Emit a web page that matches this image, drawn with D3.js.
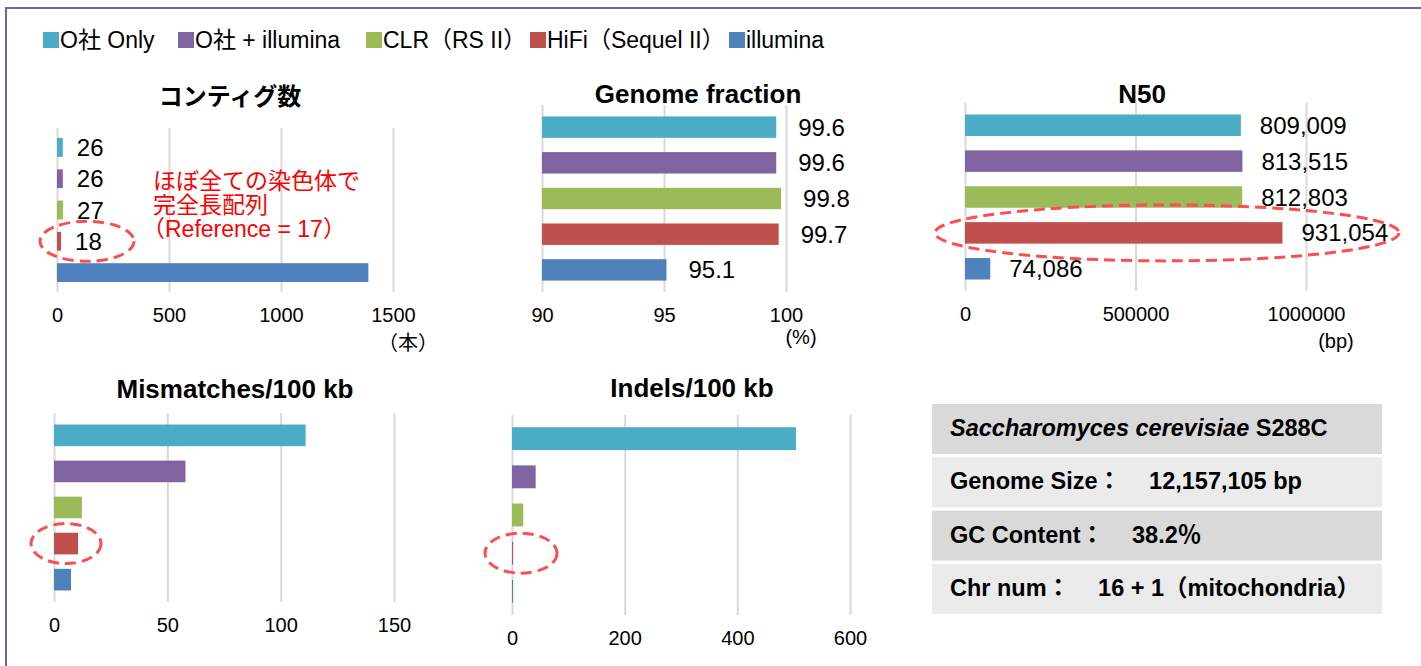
<!DOCTYPE html>
<html>
<head>
<meta charset="utf-8">
<script src="https://cdn.jsdelivr.net/npm/d3@7"></script>
<style>
  body { margin: 0; background: #fff; }
  svg { display: block; font-family: "Liberation Sans", Arial, "Noto Sans CJK JP", sans-serif; }
</style>
</head>
<body>
<svg id="chart" width="1421" height="666"></svg>
<script>
// ---------------- data ----------------
const seriesNames = ["O社 Only", "O社 + illumina", "CLR（RS II）", "HiFi（Sequel II）", "illumina"];
const seriesColors = ["#4BACC6", "#8064A2", "#9BBB59", "#C0504D", "#4F81BD"];

const contigCounts   = [26, 26, 27, 18, 1390];
const genomeFraction = [99.6, 99.6, 99.8, 99.7, 95.1];
const n50Values      = [809009, 813515, 812803, 931054, 74086];
const mismatches     = [111, 58, 12.3, 10.6, 7.5];
const indels         = [504, 42, 20, 1.5, 1];

const contigTicks   = [0, 500, 1000, 1500];
const fractionTicks = [90, 95, 100];
const n50Ticks      = [0, 500000, 1000000];
const mismatchTicks = [0, 50, 100, 150];
const indelTicks    = [0, 200, 400, 600];

const noteLines = ["ほぼ全ての染色体で", "完全長配列", "（Reference = 17）"];

const tableRows = [
  [{t: "Saccharomyces cerevisiae", i: true}, {t: " S288C"}],
  [{t: "Genome Size："}, {t: "12,157,105 bp", gap: true}],
  [{t: "GC Content："}, {t: "38.2％", gap: true}],
  [{t: "Chr num："}, {t: "16 + 1（mitochondria）", gap: true}]
];

// ---------------- layout ----------------
const svg = d3.select("#chart");
const FONT = '"Liberation Sans", Arial, "Noto Sans CJK JP", sans-serif';

// frame
svg.append("path")
  .attr("d", "M6,666 V8 H1421")
  .attr("fill", "none").attr("stroke", "#6a64b5").attr("stroke-width", 2);

// legend (item x positions are layout)
const legendPos = [43, 178, 366, 530, 729];
const legendY = 40;
seriesNames.forEach((name, i) => {
  const g = svg.append("g").attr("transform", `translate(${legendPos[i]},${legendY})`);
  g.append("rect").attr("x", 0).attr("y", -8).attr("width", 16).attr("height", 16)
    .attr("fill", seriesColors[i]);
  g.append("text").attr("x", 17).attr("y", 8)
    .attr("font-size", 23).attr("fill", "#000").text(name);
});

const panels = [
  { title: "コンティグ数", titleSize: 24, values: contigCounts, labelCount: 4,
    domain: [0, 1500], ticks: contigTicks,
    range: [57, 393], top: 128, bottom: 292, titleX: 230, titleY: 96,
    fmt: d3.format("d"), tickFmt: d3.format("d"), labelOffset: 14,
    unit: "（本）", unitX: 408, unitY: 343,
    ellipse: {dx: 30, rx: 47, ry: 20} },
  { title: "Genome fraction", titleSize: 26, values: genomeFraction, labelCount: 5,
    domain: [90, 100], ticks: fractionTicks,
    range: [542, 786], top: 105, bottom: 292, titleX: 698, titleY: 94,
    fmt: d3.format(".1f"), tickFmt: d3.format("d"), labelOffset: 22,
    unit: "(%)", unitX: 801, unitY: 337 },
  { title: "N50", titleSize: 26, values: n50Values, labelCount: 5,
    domain: [0, 1000000], ticks: n50Ticks,
    range: [965, 1306], top: 103, bottom: 291, titleX: 1142, titleY: 94,
    fmt: d3.format(","), tickFmt: d3.format("d"), labelOffset: 19,
    unit: "(bp)", unitX: 1336, unitY: 341,
    ellipse: {dx: 202, rx: 232, ry: 28} },
  { title: "Mismatches/100 kb", titleSize: 26, values: mismatches, labelCount: 0,
    domain: [0, 150], ticks: mismatchTicks,
    range: [54, 394], top: 413, bottom: 602, titleX: 235, titleY: 389,
    tickFmt: d3.format("d"),
    ellipse: {dx: 12, rx: 35, ry: 20} },
  { title: "Indels/100 kb", titleSize: 26, values: indels, labelCount: 0,
    domain: [0, 600], ticks: indelTicks,
    range: [512, 850], top: 415, bottom: 615, titleX: 692, titleY: 388,
    tickFmt: d3.format("d"),
    ellipse: {dx: 9, rx: 36, ry: 20} }
];

panels.forEach(p => {
  const g = svg.append("g");
  const x = d3.scaleLinear().domain(p.domain).range(p.range);
  const y = d3.scaleBand().domain(d3.range(p.values.length))
    .range([p.top, p.bottom]).paddingInner(0.4).paddingOuter(0.32);

  // gridlines + tick labels via axis
  const axis = d3.axisBottom(x).tickValues(p.ticks).tickFormat(p.tickFmt)
    .tickSize(-(p.bottom - p.top)).tickPadding(20);
  const ax = g.append("g").attr("transform", `translate(0,${p.bottom})`).call(axis);
  ax.select(".domain").remove();
  ax.selectAll(".tick line").attr("stroke", "#d9d9d9").attr("stroke-width", 2);
  ax.selectAll(".tick text").attr("font-size", 20).attr("font-family", FONT)
    .attr("fill", "#000").attr("dy", "0.71em").attr("y", 16);

  // title
  g.append("text").attr("x", p.titleX).attr("y", p.titleY)
    .attr("text-anchor", "middle").attr("dominant-baseline", "central")
    .attr("font-size", p.titleSize).attr("font-weight", "bold").attr("fill", "#000")
    .text(p.title);

  // bars
  g.selectAll("rect.bar").data(p.values).join("rect")
    .attr("class", "bar")
    .attr("x", x(p.domain[0]))
    .attr("y", (d, i) => y(i))
    .attr("width", d => Math.max(1, x(d) - x(p.domain[0])))
    .attr("height", y.bandwidth())
    .attr("fill", (d, i) => seriesColors[i]);

  // value labels
  if (p.labelCount > 0) {
    g.selectAll("text.val").data(p.values.slice(0, p.labelCount)).join("text")
      .attr("class", "val")
      .attr("x", d => x(d) + p.labelOffset)
      .attr("y", (d, i) => y(i) + y.bandwidth() / 2)
      .attr("dominant-baseline", "central")
      .attr("font-size", 24).attr("fill", "#000")
      .text(d => p.fmt(d));
  }

  // unit
  if (p.unit) {
    g.append("text").attr("x", p.unitX).attr("y", p.unitY)
      .attr("text-anchor", "middle").attr("dominant-baseline", "central")
      .attr("font-size", 20).attr("fill", "#000").text(p.unit);
  }

  // highlight ellipse around HiFi (index 3)
  if (p.ellipse) {
    g.append("ellipse")
      .attr("cx", x(p.domain[0]) + p.ellipse.dx)
      .attr("cy", y(3) + y.bandwidth() / 2)
      .attr("rx", p.ellipse.rx).attr("ry", p.ellipse.ry)
      .attr("fill", "none").attr("stroke", "#ff4d4d")
      .attr("stroke-width", 3).attr("stroke-dasharray", "11,6");
  }
});

// red annotation in contig panel
const note = svg.append("text").attr("fill", "#ff0000").attr("font-size", 23);
noteLines.forEach((line, i) => {
  note.append("tspan")
    .attr("x", line.startsWith("（") ? 142 : 153)
    .attr("y", 189 + i * 24).text(line);
});

// info table
const tableX = 932, tableW = 450, rowH = 50, rowGap = 3.3, tableTop = 404;
const rowFills = ["#d9d9d9", "#ebebeb"];
tableRows.forEach((row, i) => {
  const ry = tableTop + i * (rowH + rowGap);
  svg.append("rect").attr("x", tableX).attr("y", ry).attr("width", tableW).attr("height", rowH)
    .attr("fill", rowFills[i % 2]);
  const t = svg.append("text").attr("x", 950).attr("y", ry + rowH / 2 - 1)
    .attr("dominant-baseline", "central").attr("font-size", 23.5)
    .attr("font-weight", "bold").attr("fill", "#000");
  row.forEach(seg => {
    const ts = t.append("tspan").text(seg.t);
    if (seg.i) ts.attr("font-style", "italic");
    if (seg.gap) ts.attr("dx", 28);
  });
});
</script>
</body>
</html>
